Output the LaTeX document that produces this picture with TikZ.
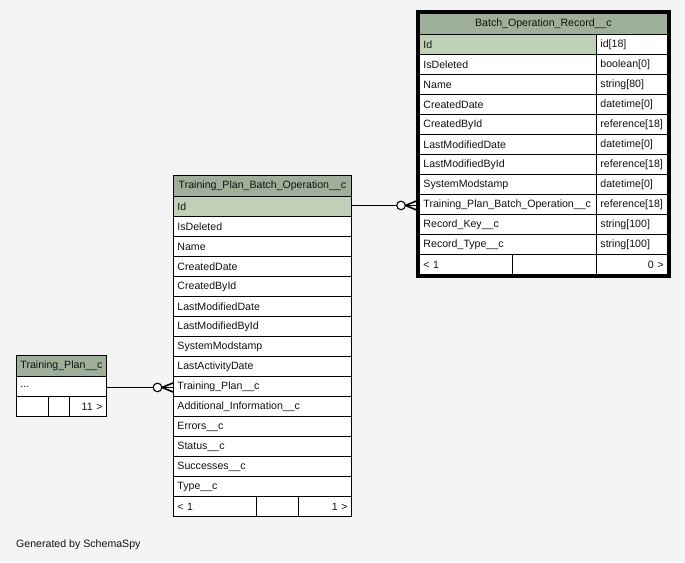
\documentclass[tikz,border=0pt]{standalone}
\usepackage{fontspec}
\setmainfont{Liberation Sans}
\usetikzlibrary{calc,fit}
\definecolor{bgc}{HTML}{F4F4F4}
\definecolor{hdr}{HTML}{9FB09A}
\definecolor{pkc}{HTML}{BFD2B8}
\definecolor{txt}{HTML}{111111}
\newcommand\tabfont{\fontsize{10.6}{12}\selectfont\hyphenpenalty=10000\exhyphenpenalty=10000}
\newcommand\crowodot[2]{%
  \draw[conn] (#1) -- (#2);
  \draw[conn,fill=white] ($(#2)+(-15.5,0)$) circle (4.3pt);
  \draw[conn,line width=1.6pt] ($(#2)+(-11,0)$) -- ($(#2)+(0,-4.5)$);
  \draw[conn,line width=1.6pt] ($(#2)+(-11,0)$) -- ($(#2)+(0,4.5)$);
}
\tikzset{
  cell/.style={draw=black, line width=0.9pt, fill=white, minimum height=20pt,
    inner xsep=4pt, inner ysep=0pt, anchor=north west, align=left,
    font=\tabfont, text=txt},
  hcell/.style={cell, fill=hdr, minimum height=21pt, align=center},
  pk/.style={fill=pkc},
  rcell/.style={cell, align=right},
  conn/.style={draw=black, line width=1.1pt},
}
\begin{document}
\begin{tikzpicture}[x=1pt,y=-1pt]
\fill[bgc] (0,0) rectangle (685,562);
\useasboundingbox (0,0) rectangle (685,562);

% ---------- Batch_Operation_Record__c ----------
\node[hcell, minimum width=248, text width=240] (bor-h) at (419,13) {Batch\_Operation\_Record\_\_c};
\node[cell,pk, minimum width=177, text width=169] (bor-id) at (419,34) {Id};
\node[cell, minimum width=71, text width=63] (bor-idt) at (596,34) {id[18]};
\node[cell, minimum width=177, text width=169] (bor-del) at (419,54) {IsDeleted};
\node[cell, minimum width=71, text width=63] (bor-delt) at (596,54) {boolean[0]};
\node[cell, minimum width=177, text width=169] (bor-name) at (419,74) {Name};
\node[cell, minimum width=71, text width=63] (bor-namet) at (596,74) {string[80]};
\node[cell, minimum width=177, text width=169] (bor-cd) at (419,94) {CreatedDate};
\node[cell, minimum width=71, text width=63] (bor-cdt) at (596,94) {datetime[0]};
\node[cell, minimum width=177, text width=169] (bor-cb) at (419,114) {CreatedById};
\node[cell, minimum width=71, text width=63] (bor-cbt) at (596,114) {reference[18]};
\node[cell, minimum width=177, text width=169] (bor-lmd) at (419,134) {LastModifiedDate};
\node[cell, minimum width=71, text width=63] (bor-lmdt) at (596,134) {datetime[0]};
\node[cell, minimum width=177, text width=169] (bor-lmb) at (419,154) {LastModifiedById};
\node[cell, minimum width=71, text width=63] (bor-lmbt) at (596,154) {reference[18]};
\node[cell, minimum width=177, text width=169] (bor-sm) at (419,174) {SystemModstamp};
\node[cell, minimum width=71, text width=63] (bor-smt) at (596,174) {datetime[0]};
\node[cell, minimum width=177, text width=169] (bor-tpbo) at (419,194) {Training\_Plan\_Batch\_Operation\_\_c};
\node[cell, minimum width=71, text width=63] (bor-tpbot) at (596,194) {reference[18]};
\node[cell, minimum width=177, text width=169] (bor-rk) at (419,214) {Record\_Key\_\_c};
\node[cell, minimum width=71, text width=63] (bor-rkt) at (596,214) {string[100]};
\node[cell, minimum width=177, text width=169] (bor-rt) at (419,234) {Record\_Type\_\_c};
\node[cell, minimum width=71, text width=63] (bor-rtt) at (596,234) {string[100]};
\node[cell, minimum width=93, text width=85] (bor-f1) at (419,254) {< 1};
\node[cell, minimum width=84, text width=76] (bor-f2) at (512,254) {};
\node[rcell, minimum width=71, text width=63] (bor-f3) at (596,254) {0 >};
\node[fit=(bor-h)(bor-f3), draw=black, line width=3pt, inner sep=1.5pt] (bor) {};

% ---------- Training_Plan_Batch_Operation__c ----------
\node[hcell, minimum width=178, text width=170] (tpbo-h) at (173,175) {Training\_Plan\_Batch\_Operation\_\_c};
\node[cell,pk, minimum width=178, text width=170] (tpbo-id) at (173,196) {Id};
\node[cell, minimum width=178, text width=170] (tpbo-del) at (173,216) {IsDeleted};
\node[cell, minimum width=178, text width=170] (tpbo-name) at (173,236) {Name};
\node[cell, minimum width=178, text width=170] (tpbo-cd) at (173,256) {CreatedDate};
\node[cell, minimum width=178, text width=170] (tpbo-cb) at (173,276) {CreatedById};
\node[cell, minimum width=178, text width=170] (tpbo-lmd) at (173,296) {LastModifiedDate};
\node[cell, minimum width=178, text width=170] (tpbo-lmb) at (173,316) {LastModifiedById};
\node[cell, minimum width=178, text width=170] (tpbo-sm) at (173,336) {SystemModstamp};
\node[cell, minimum width=178, text width=170] (tpbo-lad) at (173,356) {LastActivityDate};
\node[cell, minimum width=178, text width=170] (tpbo-tp) at (173,376) {Training\_Plan\_\_c};
\node[cell, minimum width=178, text width=170] (tpbo-ai) at (173,396) {Additional\_Information\_\_c};
\node[cell, minimum width=178, text width=170] (tpbo-err) at (173,416) {Errors\_\_c};
\node[cell, minimum width=178, text width=170] (tpbo-st) at (173,436) {Status\_\_c};
\node[cell, minimum width=178, text width=170] (tpbo-suc) at (173,456) {Successes\_\_c};
\node[cell, minimum width=178, text width=170] (tpbo-type) at (173,476) {Type\_\_c};
\node[cell, minimum width=83, text width=75] (tpbo-f1) at (173,496) {< 1};
\node[cell, minimum width=42, text width=34] (tpbo-f2) at (256,496) {};
\node[rcell, minimum width=53, text width=45] (tpbo-f3) at (298,496) {1 >};

% ---------- Training_Plan__c ----------
\node[hcell, minimum width=90, text width=82] (tp-h) at (16,355) {Training\_Plan\_\_c};
\node[cell, minimum width=90, text width=82] (tp-row) at (16,376) {...};
\node[cell, minimum width=32, text width=24] (tp-f1) at (16,396) {};
\node[cell, minimum width=21, text width=13] (tp-f2) at (48,396) {};
\node[rcell, minimum width=37, text width=29] (tp-f3) at (69,396) {11 >};

% ---------- connectors ----------
\coordinate (e1) at ($(bor-tpbo.west)+(-2.5,1)$);
\coordinate (s1) at (tpbo-id.east |- e1);
\crowodot{s1}{e1}
\coordinate (e2) at ($(tpbo-tp.west)+(0,1)$);
\coordinate (s2) at (tp-row.east |- e2);
\crowodot{s2}{e2}

\node[anchor=west, font=\tabfont, text=txt, inner sep=0pt] (gen) at (16,545) {Generated by SchemaSpy};
\end{tikzpicture}
\end{document}
